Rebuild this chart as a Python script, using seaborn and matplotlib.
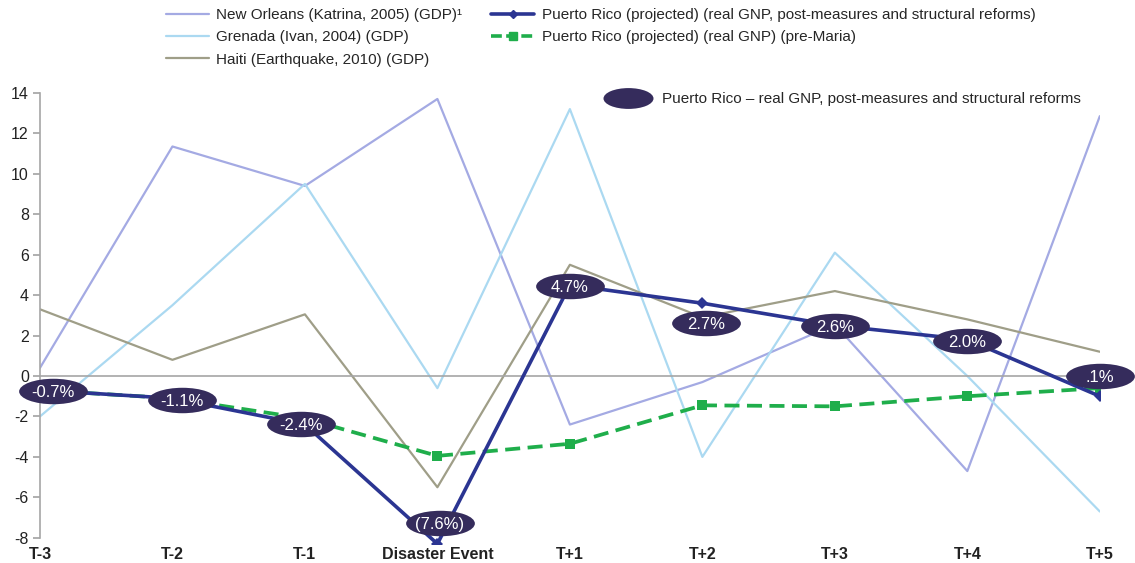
import numpy as np
import pandas as pd
import matplotlib
matplotlib.use("Agg")
import matplotlib.pyplot as plt
import seaborn as sns
from matplotlib.lines import Line2D
from matplotlib.path import Path
from matplotlib.transforms import Affine2D

# data
periods = ["T-3", "T-2", "T-1", "Disaster Event", "T+1", "T+2", "T+3", "T+4", "T+5"]
new_orleans = [0.4, 11.35, 9.4, 13.7, -2.4, -0.3, 2.55, -4.7, 12.85]
grenada = [-2.0, 3.5, 9.5, -0.6, 13.2, -4.0, 6.1, 0.0, -6.7]
haiti = [3.3, 0.8, 3.05, -5.5, 5.5, 2.9, 4.2, 2.8, 1.2]
pr_reforms = [-0.7, -1.1, -2.4, -8.3, 4.5, 3.6, 2.5, 1.8, -1.0]
pr_pre_maria = [-0.7, -1.1, -2.1, -3.95, -3.35, -1.45, -1.5, -1.0, -0.6]
bubble_labels = ["-0.7%", "-1.1%", "-2.4%", "(7.6%)", "4.7%", "2.7%", "2.6%", "2.0%", ".1%"]

# where the bubbles sit (layout, not data)
bubble_x = [0.1, 1.07, 1.97, 3.02, 4.0, 5.03, 6.0, 7.0, 8.0]
bubble_y = [-0.75, -1.2, -2.35, -7.25, 4.45, 2.6, 2.45, 1.75, 0.0]

sns.set_theme(style="white")
plt.rcParams["font.family"] = ["Liberation Sans", "DejaVu Sans"]
plt.rcParams["axes.unicode_minus"] = False

df = pd.DataFrame({
    "x": np.arange(len(periods)),
    "new_orleans": new_orleans,
    "grenada": grenada,
    "haiti": haiti,
    "pr_reforms": pr_reforms,
    "pr_pre_maria": pr_pre_maria,
})
bubbles = pd.DataFrame({"x": bubble_x, "y": bubble_y, "label": bubble_labels})

c_no = "#a4aae3"
c_gr = "#abd9f1"
c_ha = "#9f9e88"
c_pr = "#2b3592"
c_pm = "#1fae4b"
c_bub = "#352c5c"

ell = Path.unit_circle().transformed(Affine2D().scale(2.7, 1))

fig, ax = plt.subplots(figsize=(11.35, 5.63), dpi=100)
fig.subplots_adjust(left=0.0352, right=0.969, top=0.835, bottom=0.034)

sns.lineplot(data=df, x="x", y="new_orleans", color=c_no, lw=1.6, ax=ax, zorder=2)
sns.lineplot(data=df, x="x", y="grenada", color=c_gr, lw=1.6, ax=ax, zorder=2)
sns.lineplot(data=df, x="x", y="haiti", color=c_ha, lw=1.6, ax=ax, zorder=2)
sns.lineplot(data=df, x="x", y="pr_pre_maria", color=c_pm, lw=2.7, ax=ax,
             marker="s", markersize=6.5, markeredgewidth=0, zorder=3)
ax.lines[-1].set_dashes((4, 2))
sns.lineplot(data=df, x="x", y="pr_reforms", color=c_pr, lw=2.6, ax=ax,
             marker="D", markersize=6.5, markeredgewidth=0, zorder=4)

sns.scatterplot(data=bubbles, x="x", y="y", marker=ell, s=2450, color=c_bub,
                linewidth=0, ax=ax, zorder=5, clip_on=False, legend=False)
for _, row in bubbles.iterrows():
    ax.text(row["x"], row["y"], row["label"], ha="center", va="center_baseline",
            color="white", fontsize=12, zorder=6, clip_on=False)

ax.set_xlim(0, len(periods) - 1)
ax.set_ylim(-8.3, 14)
ax.set_yticks(range(-8, 15, 2))
ax.set_xticks(range(len(periods)))
ax.set_xlabel("")
ax.set_ylabel("")

grey = "#a6a6a6"
ax.spines["top"].set_visible(False)
ax.spines["right"].set_visible(False)
ax.spines["left"].set_bounds(-8, 14)
ax.spines["left"].set_color(grey)
ax.spines["left"].set_linewidth(1.2)
ax.spines["bottom"].set_position(("data", 0))
ax.spines["bottom"].set_color(grey)
ax.spines["bottom"].set_linewidth(1.2)
ax.tick_params(axis="x", direction="out", length=5, color=grey, labelbottom=False)
ax.tick_params(axis="y", direction="out", length=5, color=grey, labelsize=11.5,
               labelcolor="#222222", pad=3, left=True)

sec = ax.secondary_xaxis("bottom")
sec.set_xticks(range(len(periods)))
sec.set_xticklabels(periods, fontweight="bold", fontsize=11.5, color="#222222")
sec.tick_params(length=0, pad=2)
sec.spines["bottom"].set_visible(False)

handles = [
    Line2D([], [], color=c_no, lw=1.6),
    Line2D([], [], color=c_gr, lw=1.6),
    Line2D([], [], color=c_ha, lw=1.6),
    Line2D([], [], color=c_pr, lw=2.6, marker="D", markersize=4),
    Line2D([], [], color=c_pm, lw=2.6, marker="s", markersize=6, dashes=(3, 1.2)),
]
labels = [
    "New Orleans (Katrina, 2005) (GDP)\u00b9",
    "Grenada (Ivan, 2004) (GDP)",
    "Haiti (Earthquake, 2010) (GDP)",
    "Puerto Rico (projected) (real GNP, post-measures and structural reforms)",
    "Puerto Rico (projected) (real GNP) (pre-Maria)",
]
fig.legend(handles, labels, ncol=2, loc="upper left",
           bbox_to_anchor=(166 / 1135, 1 - 8 / 563), bbox_transform=fig.transFigure,
           frameon=False, fontsize=11, handlelength=2.8, handletextpad=0.5,
           columnspacing=1.9, labelspacing=0.55, borderpad=0, borderaxespad=0)

ell_leg = Path.unit_circle().transformed(Affine2D().scale(2.4, 1))
h_bub = Line2D([], [], ls="none", marker=ell_leg, markersize=36, color=c_bub, markeredgewidth=0)
fig.legend([h_bub], ["Puerto Rico \u2013 real GNP, post-measures and structural reforms"],
           loc="upper left", bbox_to_anchor=(604 / 1135, 1 - 92 / 563),
           bbox_transform=fig.transFigure, frameon=False, fontsize=11,
           handlelength=3.2, handletextpad=0.6, borderpad=0, borderaxespad=0,
           numpoints=1)

fig.savefig("out.png", dpi=100)
